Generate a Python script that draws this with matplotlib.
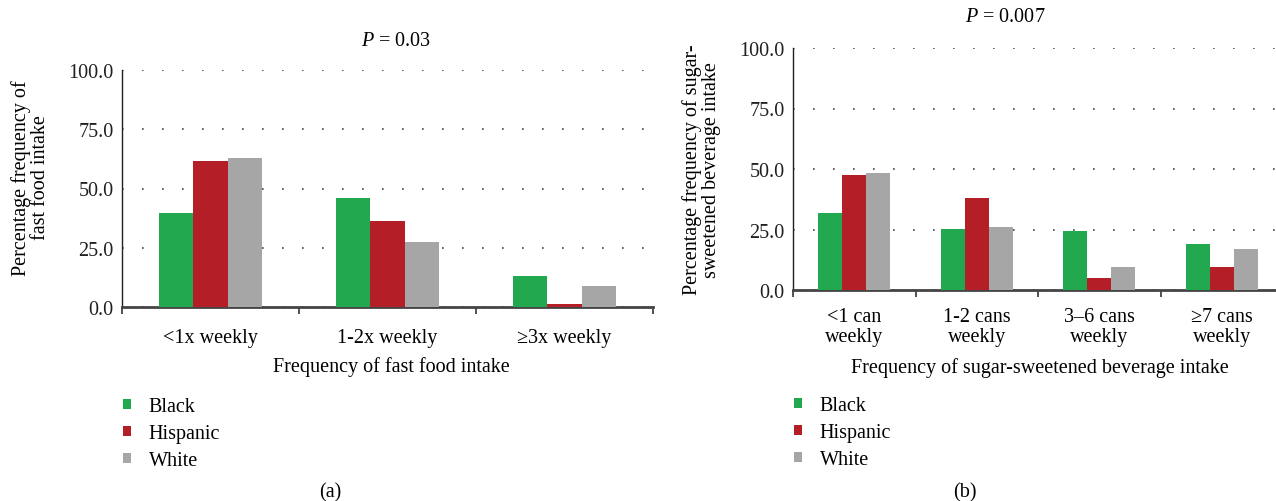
import matplotlib
matplotlib.use("Agg")
import matplotlib.pyplot as plt
import numpy as np
from matplotlib.ticker import FormatStrFormatter

plt.rcParams['font.family'] = ['Liberation Serif', 'DejaVu Serif']
plt.rcParams['mathtext.fontset'] = 'custom'
plt.rcParams['mathtext.it'] = 'Liberation Serif:italic'

groups = ["Black", "Hispanic", "White"]
colors = ["#22a84f", "#b41f27", "#a6a6a6"]

fast_cats = ["<1x weekly", "1-2x weekly", "\u22653x weekly"]
fast_black = [39.7, 46.1, 13.2]
fast_hisp = [61.5, 36.4, 1.4]
fast_white = [62.9, 27.5, 9.0]

ssb_cats = ["<1 can\nweekly", "1-2 cans\nweekly", "3\u20136 cans\nweekly", "\u22657 cans\nweekly"]
ssb_black = [31.8, 25.1, 24.3, 18.9]
ssb_hisp = [47.5, 38.0, 4.8, 9.4]
ssb_white = [48.3, 26.0, 9.4, 16.9]

W, H = 1276, 502
fig = plt.figure(figsize=(W / 100, H / 100), dpi=100)
FS = 14.5


def px(x0, y0, x1, y1):
    # pixel box (left, top, right, bottom) -> figure fraction rect
    return [x0 / W, 1 - y1 / H, (x1 - x0) / W, (y1 - y0) / H]


def panel(rect, cats, series, xlabel, ylabel, title, title_xy, xlab_xy, ylab_xy, leg_xy, tag_xy, tag, pad):
    ax = fig.add_axes(rect)
    n = len(cats)
    x = np.arange(n)
    bw = 0.195
    bars = []
    for i, (vals, c) in enumerate(zip(series, colors)):
        b = ax.bar(x + (i - 1) * bw, vals, width=bw, color=c, zorder=3, label=groups[i])
        bars.append(b)
    ax.set_xlim(-0.5, n - 0.5)
    ax.set_ylim(0, 100)
    ax.set_yticks([0, 25, 50, 75, 100])
    ax.yaxis.set_major_formatter(FormatStrFormatter('%.1f'))
    ax.tick_params(axis='y', length=0, labelsize=FS, pad=6, colors='#231f20')
    ax.set_xticks(np.arange(n + 1) - 0.5)
    ax.set_xticklabels([])
    ax.set_xticks(x, minor=True)
    ax.set_xticklabels(cats, minor=True, fontsize=FS, linespacing=1.1)
    ax.tick_params(axis='x', which='major', length=5, width=1.2, color='#333333', direction='out')
    ax.tick_params(axis='x', which='minor', length=0, pad=pad)
    ax.yaxis.grid(True, linestyle=(0, (1, 11)), color='#444444', linewidth=1.2)
    ax.set_axisbelow(True)
    for s in ['top', 'right']:
        ax.spines[s].set_visible(False)
    ax.spines['left'].set_linewidth(1.0)
    ax.spines['left'].set_color('#231f20')
    ax.spines['bottom'].set_linewidth(2.0)
    ax.spines['bottom'].set_color('#444444')
    fig.text(title_xy[0] / W, 1 - title_xy[1] / H, title, fontsize=FS, ha='center', va='center')
    fig.text(xlab_xy[0] / W, 1 - xlab_xy[1] / H, xlabel, fontsize=FS, ha='center', va='center')
    fig.text(ylab_xy[0] / W, 1 - ylab_xy[1] / H, ylabel, fontsize=FS, ha='center', va='center',
             rotation=90, linespacing=1.0)
    fig.text(tag_xy[0] / W, 1 - tag_xy[1] / H, tag, fontsize=FS, ha='center', va='center')
    fig.legend(handles=bars, loc='upper left', bbox_to_anchor=(leg_xy[0] / W, 1 - leg_xy[1] / H),
               frameon=False, fontsize=FS, handlelength=0.42, handleheight=0.42,
               handletextpad=0.85, labelspacing=0.40, borderpad=0, borderaxespad=0)
    return ax


panel(px(122, 71, 653, 308), fast_cats, [fast_black, fast_hisp, fast_white],
      "Frequency of fast food intake", "Percentage frequency of\nfast food intake",
      "$P$ = 0.03", (396, 41), (391, 367), (31, 178), (123, 398), (330, 493), "(a)", 15)

panel(px(793, 49, 1283, 291), ssb_cats, [ssb_black, ssb_hisp, ssb_white],
      "Frequency of sugar-sweetened beverage intake",
      "Percentage frequency of sugar-\nsweetened beverage intake",
      "$P$ = 0.007", (1005, 18), (1040, 368), (702, 170), (794, 397), (965, 493), "(b)", 12)

fig.savefig("out.png", dpi=100)
